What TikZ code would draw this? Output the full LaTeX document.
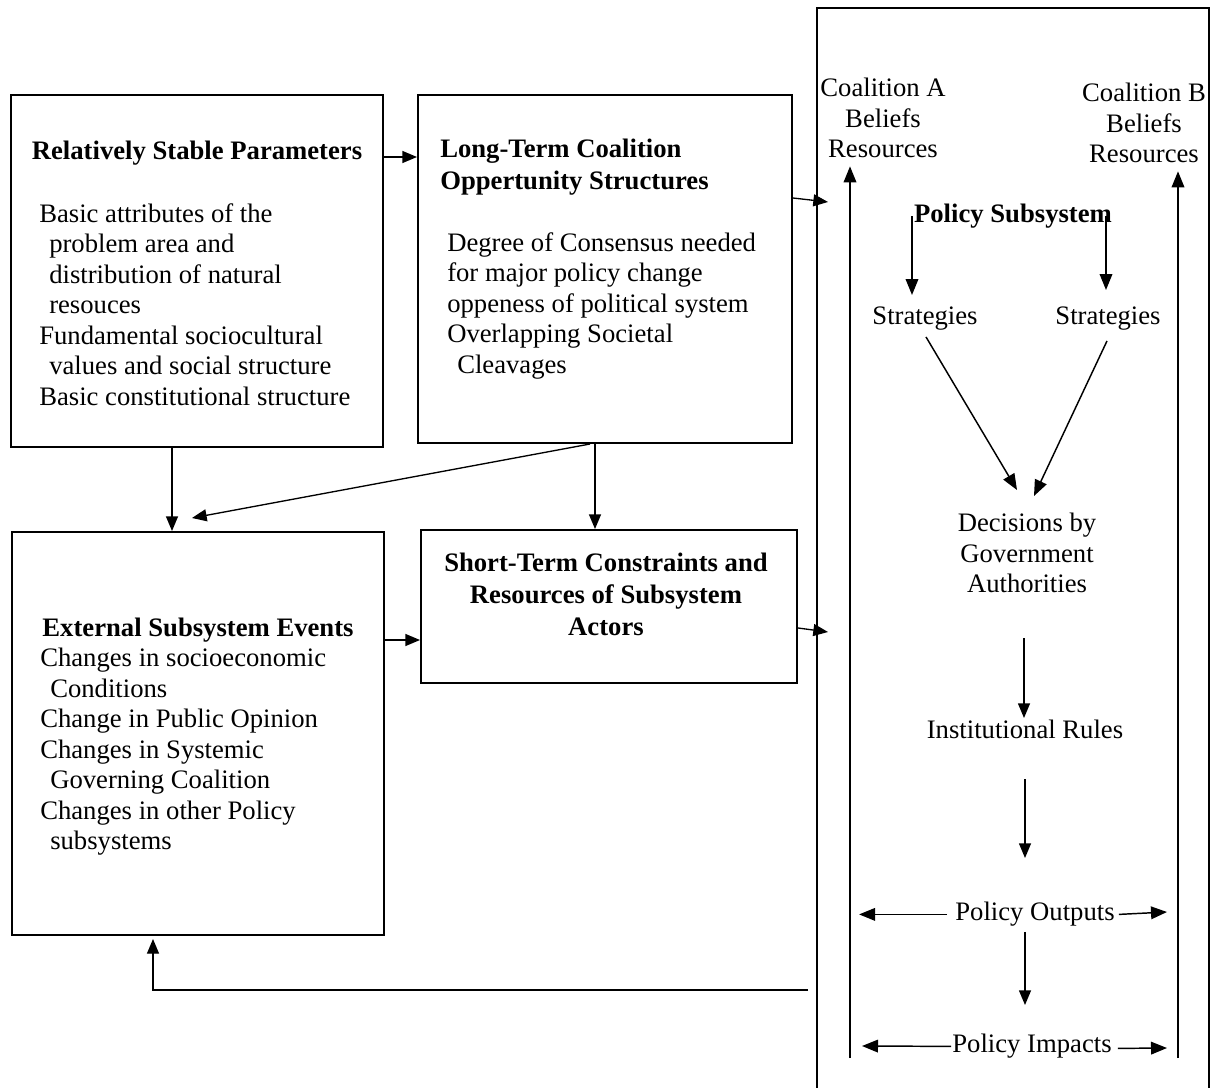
\documentclass[tikz,border=0pt]{standalone}
\usepackage{fontspec}
\setmainfont{Liberation Serif}
\usetikzlibrary{arrows.meta,calc}
\newcommand{\fsz}{\fontsize{20}{22.9}\selectfont}
\newcommand{\fszb}{\fontsize{20}{24}\selectfont\bfseries}
\newcommand{\ind}{\hspace*{7.5pt}}
\begin{document}
\begin{tikzpicture}[x=0.75pt,y=-0.75pt,
  box/.style={draw, line width=1.5pt, inner sep=0pt},
  txt/.style={font=\fsz, inner sep=0pt, align=left},
  txtc/.style={font=\fsz, inner sep=0pt, align=center},
  txtb/.style={font=\fszb, inner sep=0pt, align=left},
  txtbc/.style={font=\fszb, inner sep=0pt, align=center},
  arr/.style={-{Triangle[length=11pt,width=9pt]}, line width=1pt},
  vline/.style={-{Triangle[length=12pt,width=9.5pt]}, line width=1.1pt}]
\useasboundingbox (0,0) rectangle (1218,1088);
% left boxes
\node[box, minimum width=279pt, minimum height=264pt] (b1) at (197,271) {};
\node[box, minimum width=280.5pt, minimum height=261pt] (b2) at (605,269) {};
\node[box, minimum width=279pt, minimum height=302.25pt] (b3) at (198,733.5) {};
\node[box, minimum width=282pt, minimum height=114.75pt] (b4) at (609,606.5) {};
% texts of box 1
\node[txtb, anchor=north] (b1t) at (197,141) {Relatively Stable Parameters};
\node[txt, anchor=north west] (b1b) at (39,203) {Basic attributes of the\\\ind problem area and\\\ind distribution of natural\\\ind resouces\\Fundamental sociocultural\\\ind values and social structure\\Basic constitutional structure};
% texts of box 2
\node[txtb, anchor=north west] (b2t) at (440,139) {Long-Term Coalition\\Oppertunity Structures};
\node[txt, anchor=north west] (b2b) at (447,232) {Degree of Consensus needed\\for major policy change\\oppeness of political system\\Overlapping Societal\\\ind Cleavages};
% texts of box 3
\node[txtb, anchor=north] (b3t) at (198,618) {External Subsystem Events};
\node[txt, anchor=north west] (b3b) at (40,648) {Changes in socioeconomic\\\ind Conditions\\Change in Public Opinion\\Changes in Systemic\\\ind Governing Coalition\\Changes in other Policy\\\ind subsystems};
% text of box 4
\node[txtbc, anchor=north] (b4t) at (606,553) {Short-Term Constraints and\\Resources of Subsystem\\Actors};
% big policy subsystem box (open at the bottom)
\coordinate (ssBL) at (817,1088);
\coordinate (ssTL) at (817,8);
\coordinate (ssTR) at (1209,8);
\coordinate (ssBR) at (1209,1088);
\draw[line width=1.5pt] (ssBL) -- (ssTL) -- (ssTR) -- (ssBR);
\coordinate (ssIn1) at (828,202);
\coordinate (ssIn2) at (828,632);
% contents
\node[txtc, anchor=north] (ca) at (883,78) {Coalition A\\Beliefs\\Resources};
\node[txtc, anchor=north] (cb) at (1144,83) {Coalition B\\Beliefs\\Resources};
\node[txtb, anchor=north] (ps) at (1013,204) {Policy Subsystem};
\node[txt, anchor=north] (sA) at (925,307) {Strategies};
\node[txt, anchor=north] (sB) at (1108,307) {Strategies};
\node[txtc, anchor=north] (dec) at (1027,513) {Decisions by\\Government\\Authorities};
\node[txt, anchor=north] (ir) at (1025,720) {Institutional Rules};
\node[txt, anchor=north] (po) at (1035,902) {Policy Outputs};
\node[txt, anchor=north] (pi) at (1032,1034) {Policy Impacts};
\coordinate (colA) at (850,1058);
\coordinate (colB) at (1178,1058);
% long vertical lines
\draw[vline] (colA) -- ($(ca.south -| colA)+(0,8)$);
\draw[vline] (colB) -- ($(cb.south -| colB)+(0,8)$);
% arrows among left boxes
\draw[arr] (b1.east |- 0,157) -- (b2.west |- 0,157);
\draw[arr] (b2.east |- 0,198) -- (ssIn1);
\draw[arr] (b4.east |- 0,628) -- (ssIn2);
\draw[arr] (b3.east |- 0,640) -- (b4.west |- 0,640);
\draw[arr] (b1.south -| 172,0) -- (b3.north -| 172,0);
\draw[arr] (b2.south -| 590,0) -- ($(b3.north -| 192,0)+(0,-13)$);
\draw[arr] (b2.south -| 595,0) -- (b4.north -| 595,0);
\coordinate (fb) at (808,990);
\draw[arr] (fb) -| ($(b3.south -| 153,0)+(0,3)$);
% arrows inside policy subsystem
\draw[vline] (ps.center -| 912,0) -- ($(sA.north -| 912,0)+(0,-12)$);
\draw[vline] (ps.center -| 1106,0) -- ($(sB.north -| 1106,0)+(0,-17)$);
\draw[vline] ($(sA.south)+(1,6)$) -- ($(dec.north)+(-10,-23)$);
\draw[vline] ($(sB.south)+(-1,10)$) -- ($(dec.north)+(7,-17)$);
\draw[arr] ($(dec.south -| 1024,0)+(0,45)$) -- ($(ir.north -| 1024,0)+(0,-2)$);
\draw[arr] ($(ir.south -| 1025,0)+(0,40)$) -- ($(po.north -| 1025,0)+(0,-44)$);
\draw[arr] ($(po.south -| 1025,0)+(0,5)$) -- ($(pi.north -| 1025,0)+(0,-29)$);
\draw[vline] ($(po.west)+(-8,0)$) -- ($(po.west)+(-96,0)$);
\draw[vline] ($(po.east)+(4,0)$) -- (1167,912);
\draw[vline] ($(pi.west)+(-1,0)$) -- (862,1046);
\draw[vline] ($(pi.east)+(6,2)$) -- (1167,1048);
\end{tikzpicture}
\end{document}
